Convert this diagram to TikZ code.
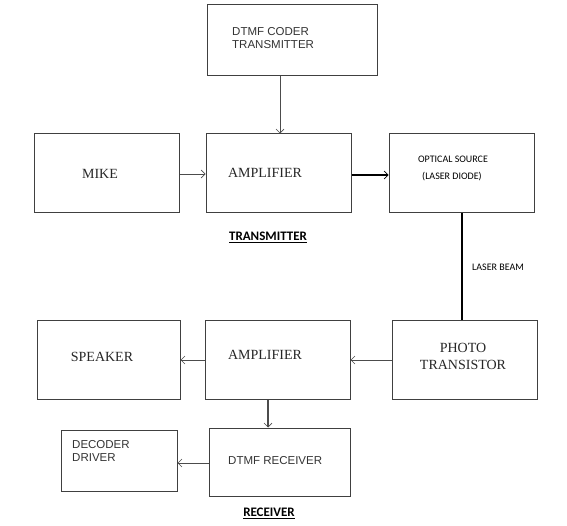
\documentclass[tikz,border=0pt]{standalone}
\usepackage{fontspec}
\setmainfont{Liberation Serif}
\newfontfamily\arialf{Liberation Sans}
\newfontfamily\calf{Carlito}
\usetikzlibrary{arrows.meta}
\tikzset{
  blk/.style={draw=black!75, line width=1pt, inner sep=0pt, rectangle},
  conn/.style={draw=black!70, line width=0.8pt, -{Straight Barb[length=4pt,width=8pt,line width=0.6pt]}},
  serift/.style={font=\fontsize{14}{14}\selectfont, text=black!85, inner sep=0pt},
  sanst/.style={font=\arialf\fontsize{11.5}{13}\selectfont, text=black!80, inner sep=0pt, align=left},
  calt/.style={font=\calf\fontsize{10}{12}\selectfont, inner sep=0pt},
  headt/.style={font=\calf\bfseries\fontsize{13}{13}\selectfont, inner sep=0pt}
}
\begin{document}
\begin{tikzpicture}[x=1pt,y=-1pt]
\useasboundingbox (0,0) rectangle (567,526);
% boxes
\node[blk, minimum width=170, minimum height=71] (coder) at (292,40.5) {};
\node[blk, minimum width=145, minimum height=79] (mike) at (106.5,173.5) {};
\node[blk, minimum width=145, minimum height=79] (amp1) at (278.5,173.5) {};
\node[blk, minimum width=145, minimum height=79] (opt) at (461.5,173.5) {};
\node[blk, minimum width=143, minimum height=79] (spk) at (108.5,359.5) {};
\node[blk, minimum width=145, minimum height=79] (amp2) at (277.5,359.5) {};
\node[blk, minimum width=145, minimum height=79] (photo) at (464.5,359.5) {};
\node[blk, minimum width=141, minimum height=68] (rx) at (279.5,462) {};
\node[blk, minimum width=116, minimum height=61] (dec) at (119,460.5) {};
% texts
\node[sanst, anchor=west] (tcoder) at (232,38) {DTMF CODER\\TRANSMITTER};
\node[serift] (tmike) at (100,174) {MIKE};
\node[serift] (tamp1) at (265,173) {AMPLIFIER};
\node[calt] (topt1) at (453,159) {OPTICAL SOURCE};
\node[calt] (topt2) at (452,177) {(LASER DIODE)};
\node[calt, anchor=west] (tbeam) at (472,267) {LASER BEAM};
\node[headt] (ttx) at (268,237) {\underline{TRANSMITTER}};
\node[serift] (tspk) at (102,357) {SPEAKER};
\node[serift] (tamp2) at (265,355) {AMPLIFIER};
\node[serift, align=center, font=\fontsize{14}{17}\selectfont] (tphoto) at (463,356) {PHOTO\\TRANSISTOR};
\node[sanst, anchor=west] (tdec) at (72,451) {DECODER\\DRIVER};
\node[sanst, anchor=west] (trx) at (228,461) {DTMF RECEIVER};
\node[headt] (trxl) at (269,513) {\underline{RECEIVER}};
% connectors
\draw[conn] (coder.south -| 280,0) -- (amp1.north -| 280,0);
\draw[conn] (mike.east |- 0,174) -- (amp1.west |- 0,174);
\draw[conn, draw=black, line width=1.2pt] (amp1.east |- 0,175) -- (opt.west |- 0,175);
\draw[draw=black, line width=1.6pt] (opt.south -| 462,0) -- (photo.north -| 462,0);
\draw[conn] (photo.west |- 0,360) -- (amp2.east |- 0,360);
\draw[conn] (amp2.west |- 0,360) -- (spk.east |- 0,360);
\draw[conn, line width=1.1pt] (amp2.south -| 268,0) -- (rx.north -| 268,0);
\draw[conn] (rx.west |- 0,463) -- (dec.east |- 0,463);
\end{tikzpicture}
\end{document}
